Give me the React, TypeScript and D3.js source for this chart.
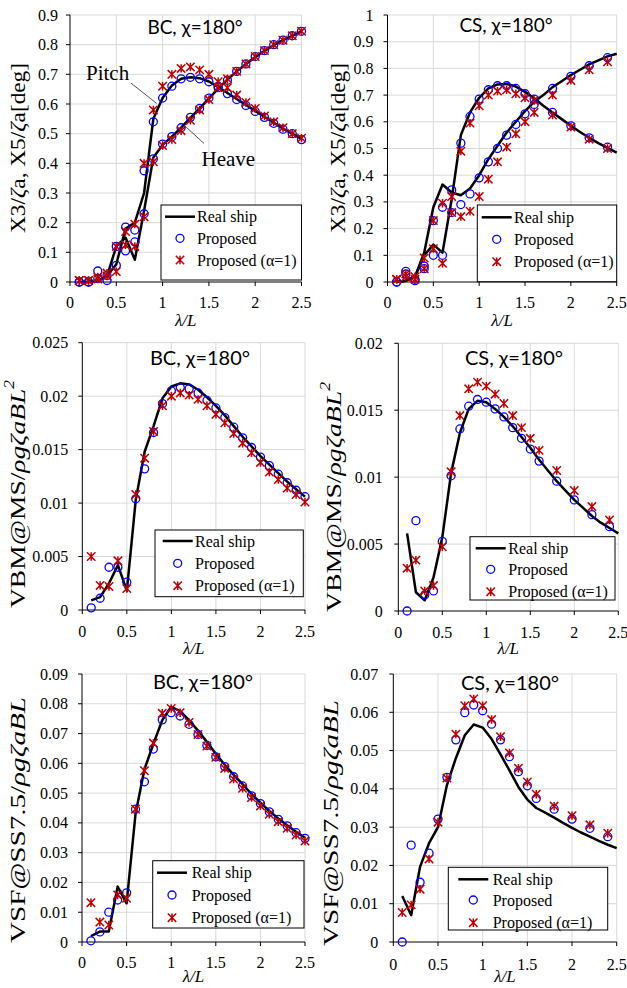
import React from "react";
import * as d3 from "d3";

// ---------- data ----------
const lamAll = [0.1, 0.2, 0.3, 0.4, 0.5, 0.6, 0.7, 0.8, 0.9, 1.0, 1.1, 1.2, 1.3, 1.4, 1.5, 1.6, 1.7, 1.8, 1.9, 2.0, 2.1, 2.2, 2.3, 2.4, 2.5];
const lamCS = [0.1, 0.2, 0.3, 0.4, 0.5, 0.6, 0.7, 0.8, 0.9, 1.0, 1.1, 1.2, 1.3, 1.4, 1.5, 1.6, 1.8, 2.0, 2.2, 2.4];
const xTicks = [0, 0.5, 1, 1.5, 2, 2.5];

// BC motions
const bcPitchReal = [0, 0, 0.005, 0.02, 0.06, 0.18, 0.2, 0.3, 0.55, 0.62, 0.662, 0.685, 0.69, 0.687, 0.676, 0.657, 0.637, 0.617, 0.597, 0.577, 0.557, 0.537, 0.517, 0.5, 0.482];
const bcHeaveReal = [0, 0, 0.005, 0.02, 0.12, 0.15, 0.075, 0.24, 0.42, 0.462, 0.49, 0.52, 0.553, 0.585, 0.618, 0.652, 0.682, 0.71, 0.735, 0.758, 0.779, 0.798, 0.815, 0.83, 0.845];
const bcPitchProp = [0, 0, 0.037, 0.022, 0.12, 0.185, 0.175, 0.375, 0.54, 0.62, 0.66, 0.685, 0.69, 0.685, 0.675, 0.655, 0.635, 0.615, 0.595, 0.575, 0.555, 0.535, 0.515, 0.5, 0.48];
const bcHeaveProp = [0, 0, 0.012, 0.005, 0.056, 0.105, 0.135, 0.23, 0.415, 0.465, 0.49, 0.52, 0.555, 0.585, 0.62, 0.66, 0.68, 0.71, 0.735, 0.76, 0.78, 0.8, 0.815, 0.83, 0.845];
const bcPitchA1 = [0.005, 0.005, 0.017, 0.03, 0.12, 0.17, 0.195, 0.4, 0.58, 0.66, 0.7, 0.72, 0.725, 0.715, 0.7, 0.675, 0.655, 0.63, 0.605, 0.585, 0.56, 0.54, 0.52, 0.5, 0.485];
const bcHeaveA1 = [0.005, 0.005, 0.01, 0.02, 0.035, 0.125, 0.12, 0.22, 0.405, 0.46, 0.48, 0.51, 0.545, 0.58, 0.615, 0.655, 0.685, 0.71, 0.735, 0.76, 0.78, 0.8, 0.815, 0.83, 0.845];

// CS motions
const csPitchReal = [0, 0.005, 0.02, 0.1, 0.14, 0.11, 0.31, 0.55, 0.635, 0.69, 0.725, 0.74, 0.742, 0.732, 0.712, 0.688, 0.66, 0.635, 0.61, 0.585, 0.562, 0.54, 0.52, 0.502, 0.485];
const csHeaveReal = [0, 0.005, 0.02, 0.11, 0.28, 0.365, 0.335, 0.325, 0.35, 0.4, 0.46, 0.51, 0.56, 0.6, 0.64, 0.675, 0.7, 0.73, 0.752, 0.775, 0.795, 0.815, 0.83, 0.845, 0.855];
const csPitchProp = [0, 0.04, 0.005, 0.06, 0.1, 0.1, 0.26, 0.52, 0.62, 0.685, 0.72, 0.735, 0.735, 0.725, 0.705, 0.685, 0.635, 0.585, 0.54, 0.505];
const csHeaveProp = [0, 0.03, 0.01, 0.05, 0.23, 0.28, 0.345, 0.29, 0.33, 0.39, 0.45, 0.5, 0.55, 0.59, 0.63, 0.665, 0.725, 0.77, 0.81, 0.84];
const csPitchA1 = [0.01, 0.02, 0.02, 0.09, 0.125, 0.07, 0.26, 0.49, 0.595, 0.66, 0.7, 0.715, 0.72, 0.705, 0.69, 0.68, 0.625, 0.58, 0.535, 0.5];
const csHeaveA1 = [0.01, 0.03, 0.01, 0.05, 0.23, 0.295, 0.32, 0.245, 0.265, 0.32, 0.385, 0.45, 0.505, 0.555, 0.6, 0.635, 0.7, 0.755, 0.795, 0.825];

// VBM
const bcVbmReal = [0.0009, 0.0012, 0.0025, 0.0042, 0.0018, 0.0103, 0.0148, 0.0172, 0.0198, 0.0209, 0.0212, 0.0211, 0.0206, 0.0199, 0.0191, 0.0182, 0.0172, 0.0162, 0.0153, 0.0144, 0.0136, 0.0128, 0.012, 0.0113, 0.0106];
const bcVbmProp = [0.0002, 0.0011, 0.004, 0.004, 0.0026, 0.0104, 0.0132, 0.0166, 0.0193, 0.0205, 0.0208, 0.0207, 0.0203, 0.0196, 0.0189, 0.018, 0.0171, 0.0161, 0.0152, 0.0143, 0.0135, 0.0127, 0.0119, 0.0112, 0.0106];
const bcVbmA1 = [0.005, 0.0023, 0.0022, 0.0046, 0.002, 0.0108, 0.0142, 0.0167, 0.0191, 0.02, 0.0203, 0.0201, 0.0197, 0.0191, 0.0183, 0.0175, 0.0165, 0.0156, 0.0147, 0.0138, 0.0129, 0.0122, 0.0114, 0.0108, 0.0101];
const csVbmReal = [0.0058, 0.0014, 0.0008, 0.0025, 0.0055, 0.0103, 0.0133, 0.0151, 0.0157, 0.0156, 0.0151, 0.0145, 0.0138, 0.013, 0.0122, 0.0113, 0.0105, 0.0097, 0.009, 0.0083, 0.0077, 0.0071, 0.0066, 0.0062, 0.0058];
const csVbmProp = [0, 0.00675, 0.0012, 0.0015, 0.0052, 0.0101, 0.0136, 0.0153, 0.0158, 0.0156, 0.0151, 0.0145, 0.0137, 0.0129, 0.0121, 0.0112, 0.0097, 0.0083, 0.0072, 0.0063];
const csVbmA1 = [0.0032, 0.0038, 0.0015, 0.0019, 0.0048, 0.0104, 0.0146, 0.0166, 0.0171, 0.0168, 0.0162, 0.0155, 0.0146, 0.0137, 0.0129, 0.012, 0.0105, 0.009, 0.0078, 0.0068];

// VSF
const bcVsfReal = [0.002, 0.0035, 0.0035, 0.0186, 0.013, 0.043, 0.058, 0.0665, 0.0745, 0.079, 0.0775, 0.0745, 0.071, 0.0672, 0.0632, 0.0595, 0.0561, 0.053, 0.0497, 0.0468, 0.044, 0.0415, 0.0392, 0.037, 0.035];
const bcVsfProp = [0.0004, 0.0034, 0.01, 0.0141, 0.0165, 0.0446, 0.0538, 0.0648, 0.0746, 0.077, 0.0759, 0.0731, 0.0697, 0.066, 0.0622, 0.0589, 0.0555, 0.0524, 0.0491, 0.0465, 0.0437, 0.0412, 0.039, 0.0367, 0.0348];
const bcVsfA1 = [0.0132, 0.0067, 0.0057, 0.0158, 0.0147, 0.0446, 0.0575, 0.0668, 0.0768, 0.0784, 0.077, 0.0737, 0.0697, 0.0658, 0.062, 0.0583, 0.0547, 0.0516, 0.0485, 0.0457, 0.0429, 0.0404, 0.0382, 0.0359, 0.0339];
const csVsfReal = [0.012, 0.007, 0.0197, 0.0258, 0.03, 0.041, 0.048, 0.054, 0.0568, 0.056, 0.053, 0.049, 0.0448, 0.0405, 0.0372, 0.035, 0.0338, 0.0325, 0.0311, 0.0298, 0.0286, 0.0275, 0.0264, 0.0254, 0.0245];
const csVsfProp = [0, 0.0253, 0.0156, 0.0232, 0.0321, 0.043, 0.0528, 0.0599, 0.0619, 0.0604, 0.0569, 0.0528, 0.0484, 0.0445, 0.0408, 0.0375, 0.0347, 0.0321, 0.0297, 0.0275];
const csVsfA1 = [0.0077, 0.0097, 0.0138, 0.0217, 0.0313, 0.0428, 0.0543, 0.0617, 0.0635, 0.0617, 0.0581, 0.0536, 0.0494, 0.0454, 0.0418, 0.0386, 0.0355, 0.033, 0.0306, 0.0284];

// y tick labels
const yTicksMotionBC = [0, 0.1, 0.2, 0.3, 0.4, 0.5, 0.6, 0.7, 0.8, 0.9];
const yTicksMotionCS = [0, 0.1, 0.2, 0.3, 0.4, 0.5, 0.6, 0.7, 0.8, 0.9, 1];
const yTicksVbmBC = [0, 0.005, 0.01, 0.015, 0.02, 0.025];
const yTicksVbmCS = [0, 0.005, 0.01, 0.015, 0.02];
const yTicksVsfBC = [0, 0.01, 0.02, 0.03, 0.04, 0.05, 0.06, 0.07, 0.08, 0.09];
const yTicksVsfCS = [0, 0.01, 0.02, 0.03, 0.04, 0.05, 0.06, 0.07];

const legendLabels = ["Real ship", "Proposed", "Proposed (α=1)"];

// ---------- styles ----------
const SERIF = "Liberation Serif";
const SANS = "Lato";
const BLUE = "#0000ff";
const RED = "#c00000";
const GRID = "#d9d9d9";

type XY = { x: number[]; y: number[] };
type PanelCfg = {
  l: number; r: number; t: number; b: number;
  yTicks: number[];
  lines: XY[]; circles: XY[]; crosses: XY[];
  title: string; titleX: number; titleY: number; titleSize: number;
  yLabel: React.ReactNode; yLabelX: number; yLabelY: number; yLabelLen: number;
  legend: { x: number; y: number; w: number; h: number; rows: number[]; lineX: number; textX: number };
  xLabelY: number; tickLabelY: number; yTickGap: number;
  extra?: (x: d3.ScaleLinear<number, number>, y: d3.ScaleLinear<number, number>) => React.ReactNode;
};

const Cross = ({ cx, cy, s = 4.2 }: { cx: number; cy: number; s?: number }) => (
  <path
    d={`M${cx - s},${cy - s}L${cx + s},${cy + s}M${cx - s},${cy + s}L${cx + s},${cy - s}M${cx},${cy - s}L${cx},${cy + s}`}
    stroke={RED}
    strokeWidth={1.5}
    fill="none"
  />
);

function Panel({ cfg }: { cfg: PanelCfg }) {
  const yMax = cfg.yTicks[cfg.yTicks.length - 1];
  const x = d3.scaleLinear().domain([0, 2.5]).range([cfg.l, cfg.r]);
  const y = d3.scaleLinear().domain([0, yMax]).range([cfg.b, cfg.t]);
  const line = d3
    .line<[number, number]>()
    .x((d) => x(d[0]))
    .y((d) => y(d[1]));
  const L = cfg.legend;
  return (
    <g>
      {cfg.yTicks.filter((v) => v > 0).map((v) => (
        <line key={"gy" + v} x1={cfg.l} x2={cfg.r} y1={y(v)} y2={y(v)} stroke={GRID} strokeWidth={1} />
      ))}
      {xTicks.filter((v) => v > 0).map((v) => (
        <line key={"gx" + v} x1={x(v)} x2={x(v)} y1={cfg.t} y2={cfg.b} stroke={GRID} strokeWidth={1} />
      ))}
      <line x1={cfg.l} x2={cfg.l} y1={cfg.t} y2={cfg.b} stroke="#000" strokeWidth={1} />
      <line x1={cfg.l} x2={cfg.r} y1={cfg.b} y2={cfg.b} stroke="#000" strokeWidth={1} />
      {cfg.yTicks.map((v) => (
        <g key={"ty" + v}>
          <line x1={cfg.l - 4} x2={cfg.l} y1={y(v)} y2={y(v)} stroke="#000" strokeWidth={1} />
          <text x={cfg.l - cfg.yTickGap} y={y(v) + 5.5} textAnchor="end" style={{ fontFamily: SERIF, fontSize: 16 }} fill="#000">
            {String(v)}
          </text>
        </g>
      ))}
      {xTicks.map((v) => (
        <g key={"tx" + v}>
          <line x1={x(v)} x2={x(v)} y1={cfg.b} y2={cfg.b + 4} stroke="#000" strokeWidth={1} />
          <text x={x(v)} y={cfg.tickLabelY} textAnchor="middle" style={{ fontFamily: SERIF, fontSize: 16 }} fill="#000">
            {String(v)}
          </text>
        </g>
      ))}
      <text x={(cfg.l + cfg.r) / 2} y={cfg.xLabelY} textAnchor="middle" style={{ fontFamily: SERIF, fontStyle: "italic", fontSize: 17 }}>
        λ/L
      </text>
      <text
        transform={`translate(${cfg.yLabelX},${cfg.yLabelY}) rotate(-90)`}
        textAnchor="middle"
        dominantBaseline="central"
        style={{ fontFamily: SERIF, fontSize: 22 }}
        textLength={cfg.yLabelLen}
        lengthAdjust="spacingAndGlyphs"
      >
        {cfg.yLabel}
      </text>
      <text x={cfg.titleX} y={cfg.titleY} textAnchor="middle" style={{ fontFamily: SANS, fontSize: cfg.titleSize }}>
        {cfg.title}
      </text>
      {cfg.extra ? cfg.extra(x, y) : null}
      {cfg.lines.map((s, i) => (
        <path key={"l" + i} d={line(s.x.map((xv, j) => [xv, s.y[j]] as [number, number])) || ""} fill="none" stroke="#000" strokeWidth={2.5} strokeLinejoin="round" />
      ))}
      {cfg.circles.map((s, i) =>
        s.x.map((xv, j) => (
          <circle key={"c" + i + "-" + j} cx={x(xv)} cy={y(s.y[j])} r={4} fill="none" stroke={BLUE} strokeWidth={1.3} />
        ))
      )}
      {cfg.crosses.map((s, i) => s.x.map((xv, j) => <Cross key={"x" + i + "-" + j} cx={x(xv)} cy={y(s.y[j])} />))}
      <rect x={L.x} y={L.y} width={L.w} height={L.h} fill="#fff" stroke="#000" strokeWidth={1} />
      <line x1={L.lineX} x2={L.lineX + 30} y1={L.rows[0]} y2={L.rows[0]} stroke="#000" strokeWidth={2.5} />
      <circle cx={L.lineX + 15} cy={L.rows[1]} r={4} fill="none" stroke={BLUE} strokeWidth={1.3} />
      <Cross cx={L.lineX + 15} cy={L.rows[2]} />
      {legendLabels.map((t, i) => (
        <text key={t} x={L.textX} y={L.rows[i] + 5.5} style={{ fontFamily: SERIF, fontSize: 16 }}>
          {t}
        </text>
      ))}
    </g>
  );
}

const motionLabel = (
  <>
    <tspan>X3/</tspan>
    <tspan fontStyle="italic">ζ</tspan>
    <tspan>a,  X5/</tspan>
    <tspan fontStyle="italic">ζ</tspan>
    <tspan>a[deg]</tspan>
  </>
);
const vbmLabel = (
  <>
    <tspan>VBM@MS/</tspan>
    <tspan fontStyle="italic">ρgζaBL</tspan>
    <tspan fontStyle="italic" fontSize={14} dy={-8}>2</tspan>
  </>
);
const vsfLabel = (
  <>
    <tspan>VSF@SS7.5/</tspan>
    <tspan fontStyle="italic">ρgζaBL</tspan>
  </>
);

const panels: PanelCfg[] = [
  {
    l: 70, r: 301.5, t: 15, b: 282, yTicks: yTicksMotionBC,
    lines: [{ x: lamAll, y: bcPitchReal }, { x: lamAll, y: bcHeaveReal }],
    circles: [{ x: lamAll, y: bcPitchProp }, { x: lamAll, y: bcHeaveProp }],
    crosses: [{ x: lamAll, y: bcPitchA1 }, { x: lamAll, y: bcHeaveA1 }],
    title: "BC, χ=180°", titleX: 195, titleY: 34, titleSize: 19,
    yLabel: motionLabel, yLabelX: 17, yLabelY: 148, yLabelLen: 170,
    legend: { x: 161, y: 205, w: 140.5, h: 75, rows: [216.7, 238.3, 260], lineX: 165, textX: 197 },
    xLabelY: 326, tickLabelY: 308, yTickGap: 12,
    extra: (x, y) => (
      <g style={{ fontFamily: SERIF, fontSize: 21 }}>
        <text x={x(0.173)} y={y(0.681)}>Pitch</text>
        <line x1={x(0.66)} y1={y(0.67)} x2={x(0.936)} y2={y(0.602)} stroke="#404040" strokeWidth={0.9} />
        <text x={x(1.42)} y={y(0.392)}>Heave</text>
        <line x1={x(1.447)} y1={y(0.467)} x2={x(1.217)} y2={y(0.533)} stroke="#404040" strokeWidth={0.9} />
      </g>
    ),
  },
  {
    l: 387.5, r: 616.7, t: 15, b: 282, yTicks: yTicksMotionCS,
    lines: [{ x: lamAll, y: csPitchReal }, { x: lamAll, y: csHeaveReal }],
    circles: [{ x: lamCS, y: csPitchProp }, { x: lamCS, y: csHeaveProp }],
    crosses: [{ x: lamCS, y: csPitchA1 }, { x: lamCS, y: csHeaveA1 }],
    title: "CS, χ=180°", titleX: 506, titleY: 32, titleSize: 19,
    yLabel: motionLabel, yLabelX: 336.5, yLabelY: 148, yLabelLen: 170,
    legend: { x: 477.3, y: 205, w: 139.4, h: 76.7, rows: [217.3, 239.3, 261.7], lineX: 481.7, textX: 514 },
    xLabelY: 326, tickLabelY: 308, yTickGap: 14,
  },
  {
    l: 82.3, r: 305, t: 342.7, b: 610, yTicks: yTicksVbmBC,
    lines: [{ x: lamAll, y: bcVbmReal }],
    circles: [{ x: lamAll, y: bcVbmProp }],
    crosses: [{ x: lamAll, y: bcVbmA1 }],
    title: "BC, χ=180°", titleX: 200, titleY: 365, titleSize: 20,
    yLabel: vbmLabel, yLabelX: 17, yLabelY: 494, yLabelLen: 228,
    legend: { x: 155, y: 530, w: 148.3, h: 66.7, rows: [541, 563.3, 585.7], lineX: 162.7, textX: 195 },
    xLabelY: 654, tickLabelY: 637, yTickGap: 14,
  },
  {
    l: 398.3, r: 618.3, t: 343.3, b: 611, yTicks: yTicksVbmCS,
    lines: [{ x: lamAll, y: csVbmReal }],
    circles: [{ x: lamCS, y: csVbmProp }],
    crosses: [{ x: lamCS, y: csVbmA1 }],
    title: "CS, χ=180°", titleX: 514, titleY: 365, titleSize: 20,
    yLabel: vbmLabel, yLabelX: 333, yLabelY: 497, yLabelLen: 230,
    legend: { x: 470, y: 536.7, w: 145, h: 63.3, rows: [548.3, 569.3, 591.7], lineX: 475.7, textX: 508.3 },
    xLabelY: 654, tickLabelY: 638, yTickGap: 15.5,
  },
  {
    l: 82, r: 305, t: 674, b: 942, yTicks: yTicksVsfBC,
    lines: [{ x: lamAll, y: bcVsfReal }],
    circles: [{ x: lamAll, y: bcVsfProp }],
    crosses: [{ x: lamAll, y: bcVsfA1 }],
    title: "BC, χ=180°", titleX: 203, titleY: 689, titleSize: 20,
    yLabel: vsfLabel, yLabelX: 17, yLabelY: 820, yLabelLen: 246,
    legend: { x: 152.7, y: 860.7, w: 151.3, h: 67.3, rows: [872.7, 895, 917.7], lineX: 157, textX: 191.7 },
    xLabelY: 982, tickLabelY: 968, yTickGap: 14,
  },
  {
    l: 393.3, r: 616.7, t: 674, b: 942, yTicks: yTicksVsfCS,
    lines: [{ x: lamAll, y: csVsfReal }],
    circles: [{ x: lamCS, y: csVsfProp }],
    crosses: [{ x: lamCS, y: csVsfA1 }],
    title: "CS, χ=180°", titleX: 510, titleY: 690, titleSize: 20,
    yLabel: vsfLabel, yLabelX: 330, yLabelY: 823, yLabelLen: 246,
    legend: { x: 448.3, y: 867.3, w: 159.4, h: 62.7, rows: [879.3, 900, 922.7], lineX: 458.3, textX: 492.7 },
    xLabelY: 982, tickLabelY: 970, yTickGap: 15,
  },
];

export default function App() {
  return (
    <svg
      width={627}
      height={988}
      viewBox="0 0 627 988"
      style={{ position: "absolute", left: 0, top: 0, background: "#fff" }}
    >
      <rect x={0} y={0} width={627} height={988} fill="#fff" />
      {panels.map((p, i) => (
        <Panel key={i} cfg={p} />
      ))}
    </svg>
  );
}
